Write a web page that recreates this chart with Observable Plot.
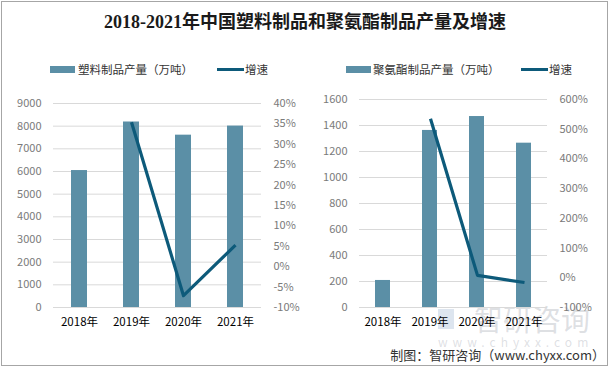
<!DOCTYPE html>
<html><head><meta charset="utf-8">
<script src="https://cdn.jsdelivr.net/npm/d3@7"></script>
<script src="https://cdn.jsdelivr.net/npm/@observablehq/plot@0.6"></script>
<style>
body{margin:0;background:#fff;}
#root{position:relative;width:610px;height:368px;overflow:hidden;font-family:"Noto Sans CJK SC",sans-serif;background:#fff;}
#frame{position:absolute;left:1px;top:1px;width:607px;height:365px;border:1px solid #a6a6a6;box-sizing:border-box;}
.abs{position:absolute;white-space:nowrap;}
.abs svg{overflow:visible;}
</style></head>
<body><div id="root"><div id="frame"></div></div>
<script>
const years = ["2018年", "2019年", "2020年", "2021年"];
const plasticOutput = [6042, 8184, 7603, 8004];
const plasticGrowth = [null, 35.4, -7.1, 5.3];
const puOutput = [208, 1362, 1469, 1264];
const puGrowth = [null, 535, 8, -16];
const plasticTicks = [0, 1000, 2000, 3000, 4000, 5000, 6000, 7000, 8000, 9000];
const plasticGrowthTicks = [-10, -5, 0, 5, 10, 15, 20, 25, 30, 35, 40];
const puTicks = [0, 200, 400, 600, 800, 1000, 1200, 1400, 1600];
const puGrowthTicks = [-100, 0, 100, 200, 300, 400, 500, 600];
const titleText = "2018-2021年中国塑料制品和聚氨酯制品产量及增速";
const legendLeft = ["塑料制品产量（万吨）", "增速"];
const legendRight = ["聚氨酯制品产量（万吨）", "增速"];
const captionText = "制图：智研咨询（www.chyxx.com）";

const BAR = "#5b8fa6", LINE = "#0d5a7a", GRID = "#d9d9d9", TICK = "#7a7a7a";
const root = document.getElementById("root");
function place(el, css) { el.className = "abs"; Object.assign(el.style, css); root.appendChild(el); return el; }
function txt(s, css) { const d = document.createElement("div"); d.textContent = s; return place(d, css); }
function box(css) { return place(document.createElement("div"), css); }

// watermark
txt("智研咨询", {left: "474px", top: "300px", fontSize: "29px", lineHeight: "36px", color: "rgba(160,165,175,0.35)"});
txt("www.chyxx.com", {left: "438px", top: "334px", fontSize: "12px", lineHeight: "16px", color: "rgba(160,165,175,0.35)", letterSpacing: "5px"});
box({left: "438px", top: "309px", width: "16px", height: "20px", background: "rgba(120,150,190,0.25)"});

// title
txt(titleText, {left: "0px", width: "610px", top: "11px", textAlign: "center", fontSize: "18px", lineHeight: "22px", fontWeight: "bold", fontFamily: "'Liberation Serif','Noto Sans CJK SC',serif", color: "#1a1a1a"});

// legends
function legend(items, x0, x1, x2, x3) {
  box({left: x0 + "px", top: "66px", width: "25px", height: "7px", background: BAR});
  txt(items[0], {left: x1 + "px", top: "61px", fontSize: "11.5px", lineHeight: "16px", color: "#333"});
  box({left: x2 + "px", top: "68px", width: "27px", height: "3px", background: LINE});
  txt(items[1], {left: x3 + "px", top: "61px", fontSize: "11.5px", lineHeight: "16px", color: "#333"});
}
legend(legendLeft, 50, 78, 217, 245);
legend(legendRight, 346, 373, 521, 549);

// caption
txt(captionText, {right: "5px", top: "346px", fontSize: "13px", lineHeight: "18px", color: "#333"});

const font = {fontFamily: "'Noto Sans CJK SC',sans-serif", fontSize: "11px", background: "transparent", overflow: "visible"};

function panel(cfg) {
  const common = {
    width: cfg.w, height: 250,
    marginLeft: cfg.ml, marginRight: cfg.mr, marginTop: cfg.mt, marginBottom: 250 - (307 - 90),
    style: font
  };
  const base = Plot.plot({
    ...common,
    x: {type: "band", domain: years, paddingInner: cfg.pi, paddingOuter: cfg.pi / 2, align: 0.5, label: null},
    y: {domain: cfg.yDomain, label: null},
    marks: [
      Plot.gridY(cfg.yTicks, {stroke: GRID, strokeOpacity: 1, strokeWidth: 1}),
      Plot.barY(years.map((y, i) => ({year: y, v: cfg.values[i]})), {x: "year", y: "v", fill: BAR}),
      Plot.axisY(cfg.yTicks, {anchor: "left", tickSize: 0, tickPadding: 12, fill: TICK, fontSize: 11, label: null, tickFormat: d => String(d)}),
      Plot.axisX({tickSize: 0, tickPadding: 10, fill: "#000", fontSize: 11.5, label: null})
    ]
  });
  const over = Plot.plot({
    ...common,
    x: {type: "point", domain: years, padding: 0.5, align: 0.5, axis: null, label: null},
    y: {domain: cfg.gDomain, label: null},
    marks: [
      Plot.line(years.map((y, i) => ({year: y, g: cfg.growth[i]})), {x: "year", y: "g", stroke: LINE, strokeWidth: 3.2, strokeLinecap: "butt"}),
      Plot.axisY(cfg.gTicks, {anchor: "right", tickSize: 0, tickPadding: 12, fill: TICK, fontSize: 11, label: null, tickFormat: d => d + "%"})
    ]
  });
  const a = document.createElement("div"); a.appendChild(base);
  place(a, {left: cfg.left + "px", top: "90px"});
  const b = document.createElement("div"); b.appendChild(over);
  place(b, {left: cfg.left + "px", top: "90px"});
}

panel({left: 0, w: 300, ml: 53, mr: 39, mt: 13, pi: 0.69, yDomain: [0, 9000], yTicks: plasticTicks, values: plasticOutput,
  gDomain: [-10, 40], gTicks: plasticGrowthTicks, growth: plasticGrowth});
panel({left: 300, w: 310, ml: 59, mr: 63, mt: 9, pi: 0.68, yDomain: [0, 1600], yTicks: puTicks, values: puOutput,
  gDomain: [-100, 600], gTicks: puGrowthTicks, growth: puGrowth});
</script>
</body></html>
